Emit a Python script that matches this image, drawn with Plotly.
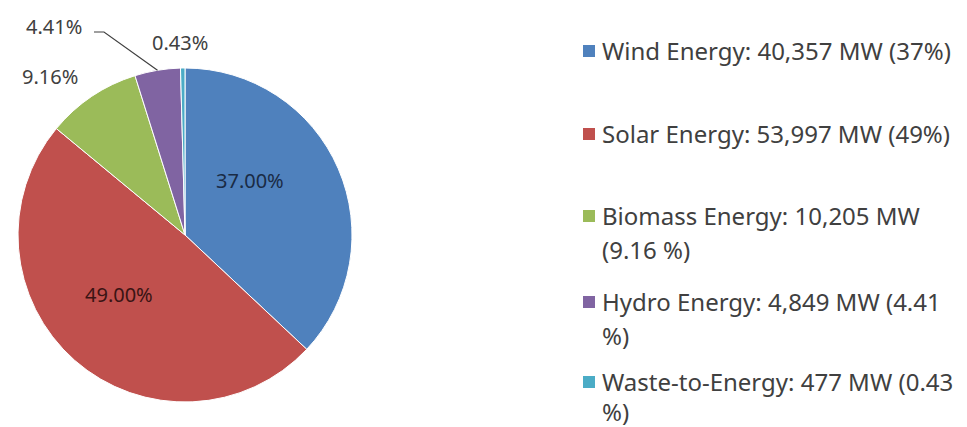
import math
import plotly.graph_objects as go

categories = ["Wind Energy", "Solar Energy", "Biomass Energy", "Hydro Energy", "Waste-to-Energy"]
shares = [37.00, 49.00, 9.16, 4.41, 0.43]
colors = ["#4F81BD", "#C0504D", "#9BBB59", "#8064A2", "#4BACC6"]
legend_lines = [
    ["Wind Energy: 40,357 MW (37%)"],
    ["Solar Energy: 53,997 MW (49%)"],
    ["Biomass Energy: 10,205 MW", "(9.16 %)"],
    ["Hydro Energy: 4,849 MW (4.41", "%)"],
    ["Waste-to-Energy: 477 MW (0.43", "%)"],
]

W, H = 967, 427
cx, cy, r = 185, 235, 167
FONT = "Noto Sans"

def px(x):
    return x / W

def py(y):
    return (H - y) / H

fig = go.Figure(go.Pie(
    labels=categories,
    values=shares,
    sort=False,
    direction="clockwise",
    rotation=0,
    marker=dict(colors=colors, line=dict(color="white", width=1)),
    textinfo="none",
    hoverinfo="skip",
    showlegend=False,
    domain=dict(x=[px(cx - r), px(cx + r)], y=[py(cy + r), py(cy - r)]),
))

shapes = []
annotations = []

# data labels (text placement like the original)
label_pos = {0: (250, 180), 1: (119, 294), 2: (50, 77), 3: (54, 27), 4: (180, 42)}
label_col = {0: "#1a2b45", 1: "#3a1414", 2: "#404040", 3: "#404040", 4: "#404040"}
for i, (lx, ly) in label_pos.items():
    annotations.append(dict(text=f"{shares[i]:.2f}%", xref="paper", yref="paper",
                            x=px(lx), y=py(ly), xanchor="center", yanchor="middle",
                            showarrow=False,
                            font=dict(family=FONT, size=20, color=label_col[i])))

# leader line for the hydro label, ending at the slice's mid-angle on the rim
total = sum(shares)
start = sum(shares[:3])
mid = (start + shares[3] / 2) / total * 2 * math.pi
ex, ey = cx + r * math.sin(mid), cy - r * math.cos(mid)
shapes.append(dict(type="path", xref="paper", yref="paper",
                   path=f"M {px(94)} {py(32)} L {px(104)} {py(32)} L {px(ex)} {py(ey)}",
                   line=dict(color="#404040", width=1.2)))

# custom legend
line_y = [[50], [133], [215, 249], [301, 335], [381, 411]]
for i, lines in enumerate(legend_lines):
    y0 = line_y[i][0] + 1
    shapes.append(dict(type="rect", xref="paper", yref="paper",
                       x0=px(583), x1=px(595), y0=py(y0 + 6), y1=py(y0 - 6),
                       fillcolor=colors[i], line=dict(width=0)))
    for j, txt in enumerate(lines):
        annotations.append(dict(text=txt, xref="paper", yref="paper",
                                x=px(600), y=py(line_y[i][j]),
                                xanchor="left", yanchor="middle", showarrow=False,
                                font=dict(family=FONT, size=24, color="#404040")))

fig.update_layout(
    width=W, height=H,
    margin=dict(l=0, r=0, t=0, b=0),
    paper_bgcolor="white", plot_bgcolor="white",
    shapes=shapes, annotations=annotations,
)
fig.write_html("out.html", config={"displayModeBar": False},
               post_script="document.body.style.margin='0';")
